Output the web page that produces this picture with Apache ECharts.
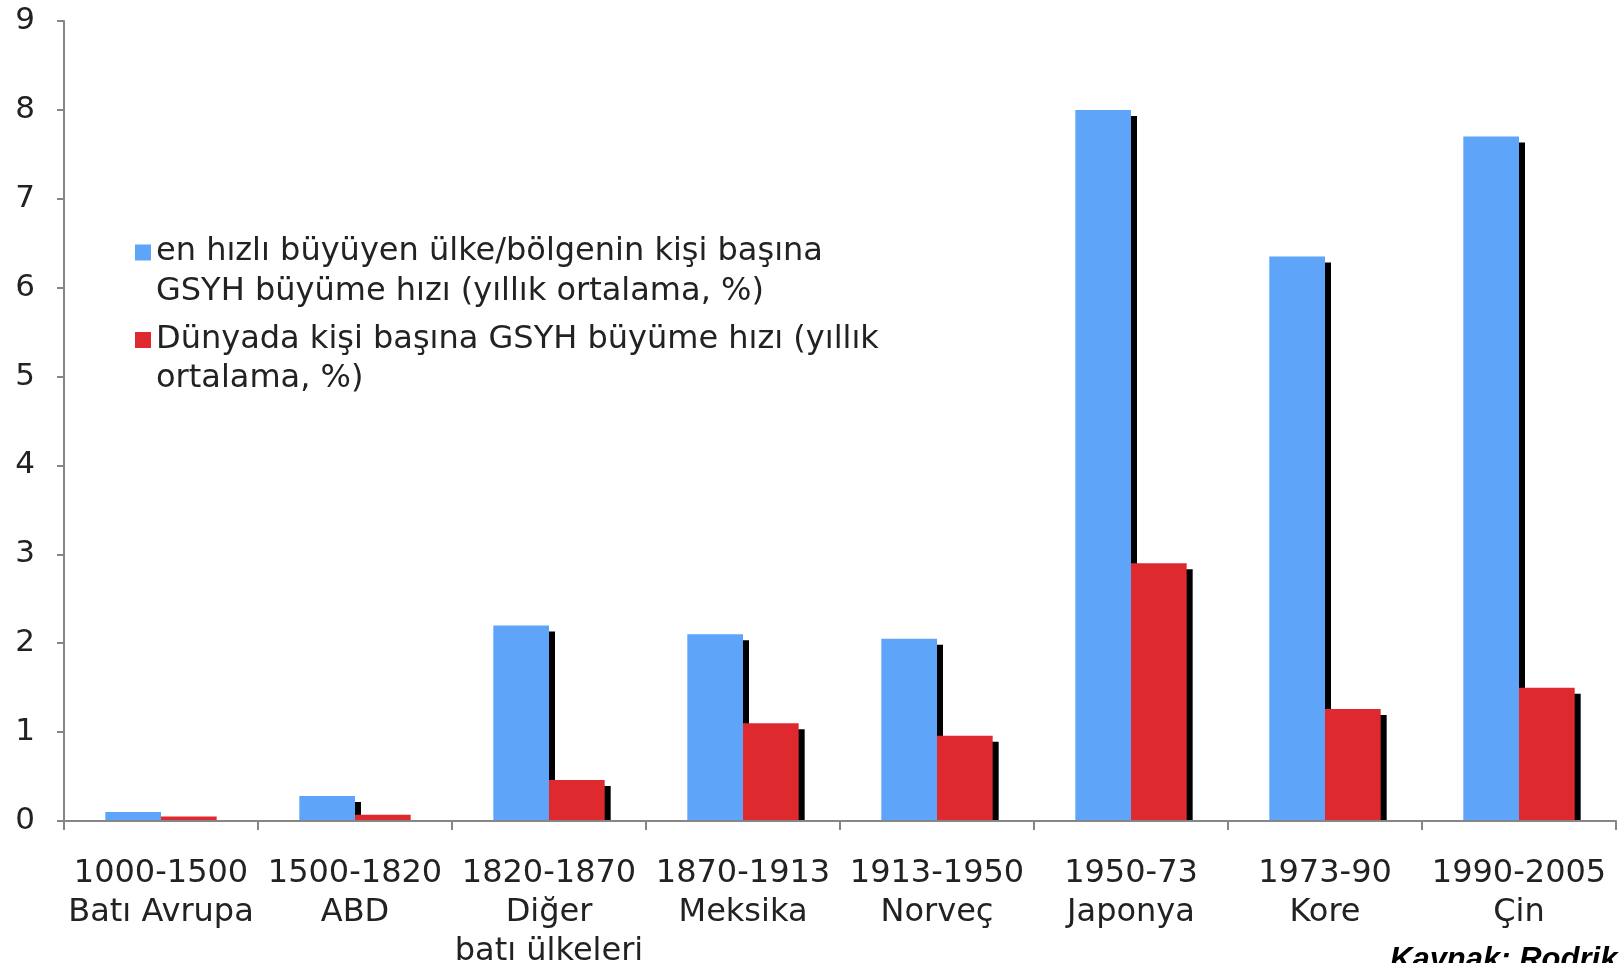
<!DOCTYPE html>
<html>
<head>
<meta charset="utf-8">
<script src="https://cdn.jsdelivr.net/npm/echarts@6/dist/echarts.min.js"></script>
<style>
html,body{margin:0;padding:0;background:#fff;}
#chart{width:1621px;height:963px;}
</style>
</head>
<body>
<div id="chart"></div>
<script>
var periods = ['1000-1500', '1500-1820', '1820-1870', '1870-1913', '1913-1950', '1950-73', '1973-90', '1990-2005'];
var regions = ['Batı Avrupa', 'ABD', 'Diğer\nbatı ülkeleri', 'Meksika', 'Norveç', 'Japonya', 'Kore', 'Çin'];
var fastestGrowth = [0.1, 0.28, 2.2, 2.1, 2.05, 8.0, 6.35, 7.7];
var worldGrowth = [0.05, 0.07, 0.46, 1.1, 0.96, 2.9, 1.26, 1.5];
var yTicks = [0, 1, 2, 3, 4, 5, 6, 7, 8, 9];
var seriesNames = [
  'en hızlı büyüyen ülke/bölgenin kişi başına\nGSYH büyüme hızı (yıllık ortalama, %)',
  'Dünyada kişi başına GSYH büyüme hızı (yıllık\nortalama, %)'
];
var sourceText = 'Kaynak: Rodrik';

var categories = periods.map(function (p, i) { return p + '\n' + regions[i]; });

function makeRender(side) {
  return function (params, api) {
    var idx = api.value(0), v = api.value(1);
    var top = api.coord([idx, v]);
    var base = api.coord([idx, 0]);
    var band = api.size([1, 0])[0];
    var bw = band * 0.287;
    var x0 = side === 0 ? top[0] - bw : top[0];
    var h = base[1] - top[1];
    var sh = 6;
    var children = [];
    if (h - sh > 0) {
      children.push({type: 'rect', shape: {x: x0 + sh, y: top[1] + sh, width: bw, height: h - sh}, style: {fill: '#000'}});
    }
    children.push({type: 'rect', shape: {x: x0, y: top[1], width: bw, height: h}, style: {fill: api.visual('color')}});
    return {type: 'group', children: children};
  };
}

var font = 'DejaVu Sans';
var chart = echarts.init(document.getElementById('chart'), null, {renderer: 'canvas'});
chart.setOption({
  animation: false,
  backgroundColor: '#fff',
  grid: {left: 64, right: 5, top: 21, bottom: 142, containLabel: false, outerBoundsMode: 'none'},
  legend: {
    orient: 'vertical',
    left: 135,
    top: 236,
    padding: 0,
    icon: 'rect',
    itemWidth: 16,
    itemHeight: 16,
    itemGap: 16,
    selectedMode: false,
    data: seriesNames,
    formatter: function (name) {
      var parts = name.split('\n');
      return '{a|' + parts[0] + '}\n{b|' + parts[1] + '}';
    },
    textStyle: {
      fontFamily: font, fontSize: 32, color: '#222',
      rich: {
        a: {fontFamily: font, fontSize: 32, color: '#222', lineHeight: 78, verticalAlign: 'bottom'},
        b: {fontFamily: font, fontSize: 32, color: '#222', lineHeight: 47}
      }
    }
  },
  xAxis: {
    type: 'category',
    data: categories,
    boundaryGap: true,
    z: 3,
    axisLine: {show: true, lineStyle: {color: '#868686', width: 2}},
    axisTick: {show: true, interval: 0, length: 9, lineStyle: {color: '#868686', width: 2}},
    axisLabel: {interval: 0, margin: 33, fontFamily: font, fontSize: 32, lineHeight: 39, color: '#222'}
  },
  yAxis: {
    type: 'value',
    min: yTicks[0],
    max: yTicks[yTicks.length - 1],
    interval: 1,
    splitLine: {show: false},
    axisLine: {show: true, lineStyle: {color: '#868686', width: 2}},
    axisTick: {show: true, length: 7, lineStyle: {color: '#868686', width: 2}},
    axisLabel: {margin: 29, fontFamily: font, fontSize: 31, color: '#222'}
  },
  series: [
    {
      name: seriesNames[0],
      type: 'custom',
      renderItem: makeRender(0),
      itemStyle: {color: '#5ea4f8'},
      encode: {x: 0, y: 1},
      data: fastestGrowth.map(function (v, i) { return [i, v]; })
    },
    {
      name: seriesNames[1],
      type: 'custom',
      renderItem: makeRender(1),
      itemStyle: {color: '#de2a2e'},
      encode: {x: 0, y: 1},
      data: worldGrowth.map(function (v, i) { return [i, v]; })
    }
  ],
  graphic: [
    {
      type: 'text',
      left: 1390,
      top: 945,
      style: {text: sourceText, fontFamily: 'Liberation Sans', fontSize: 31, fontWeight: 'bold', fontStyle: 'italic', fill: '#000'}
    }
  ]
});
</script>
</body>
</html>
